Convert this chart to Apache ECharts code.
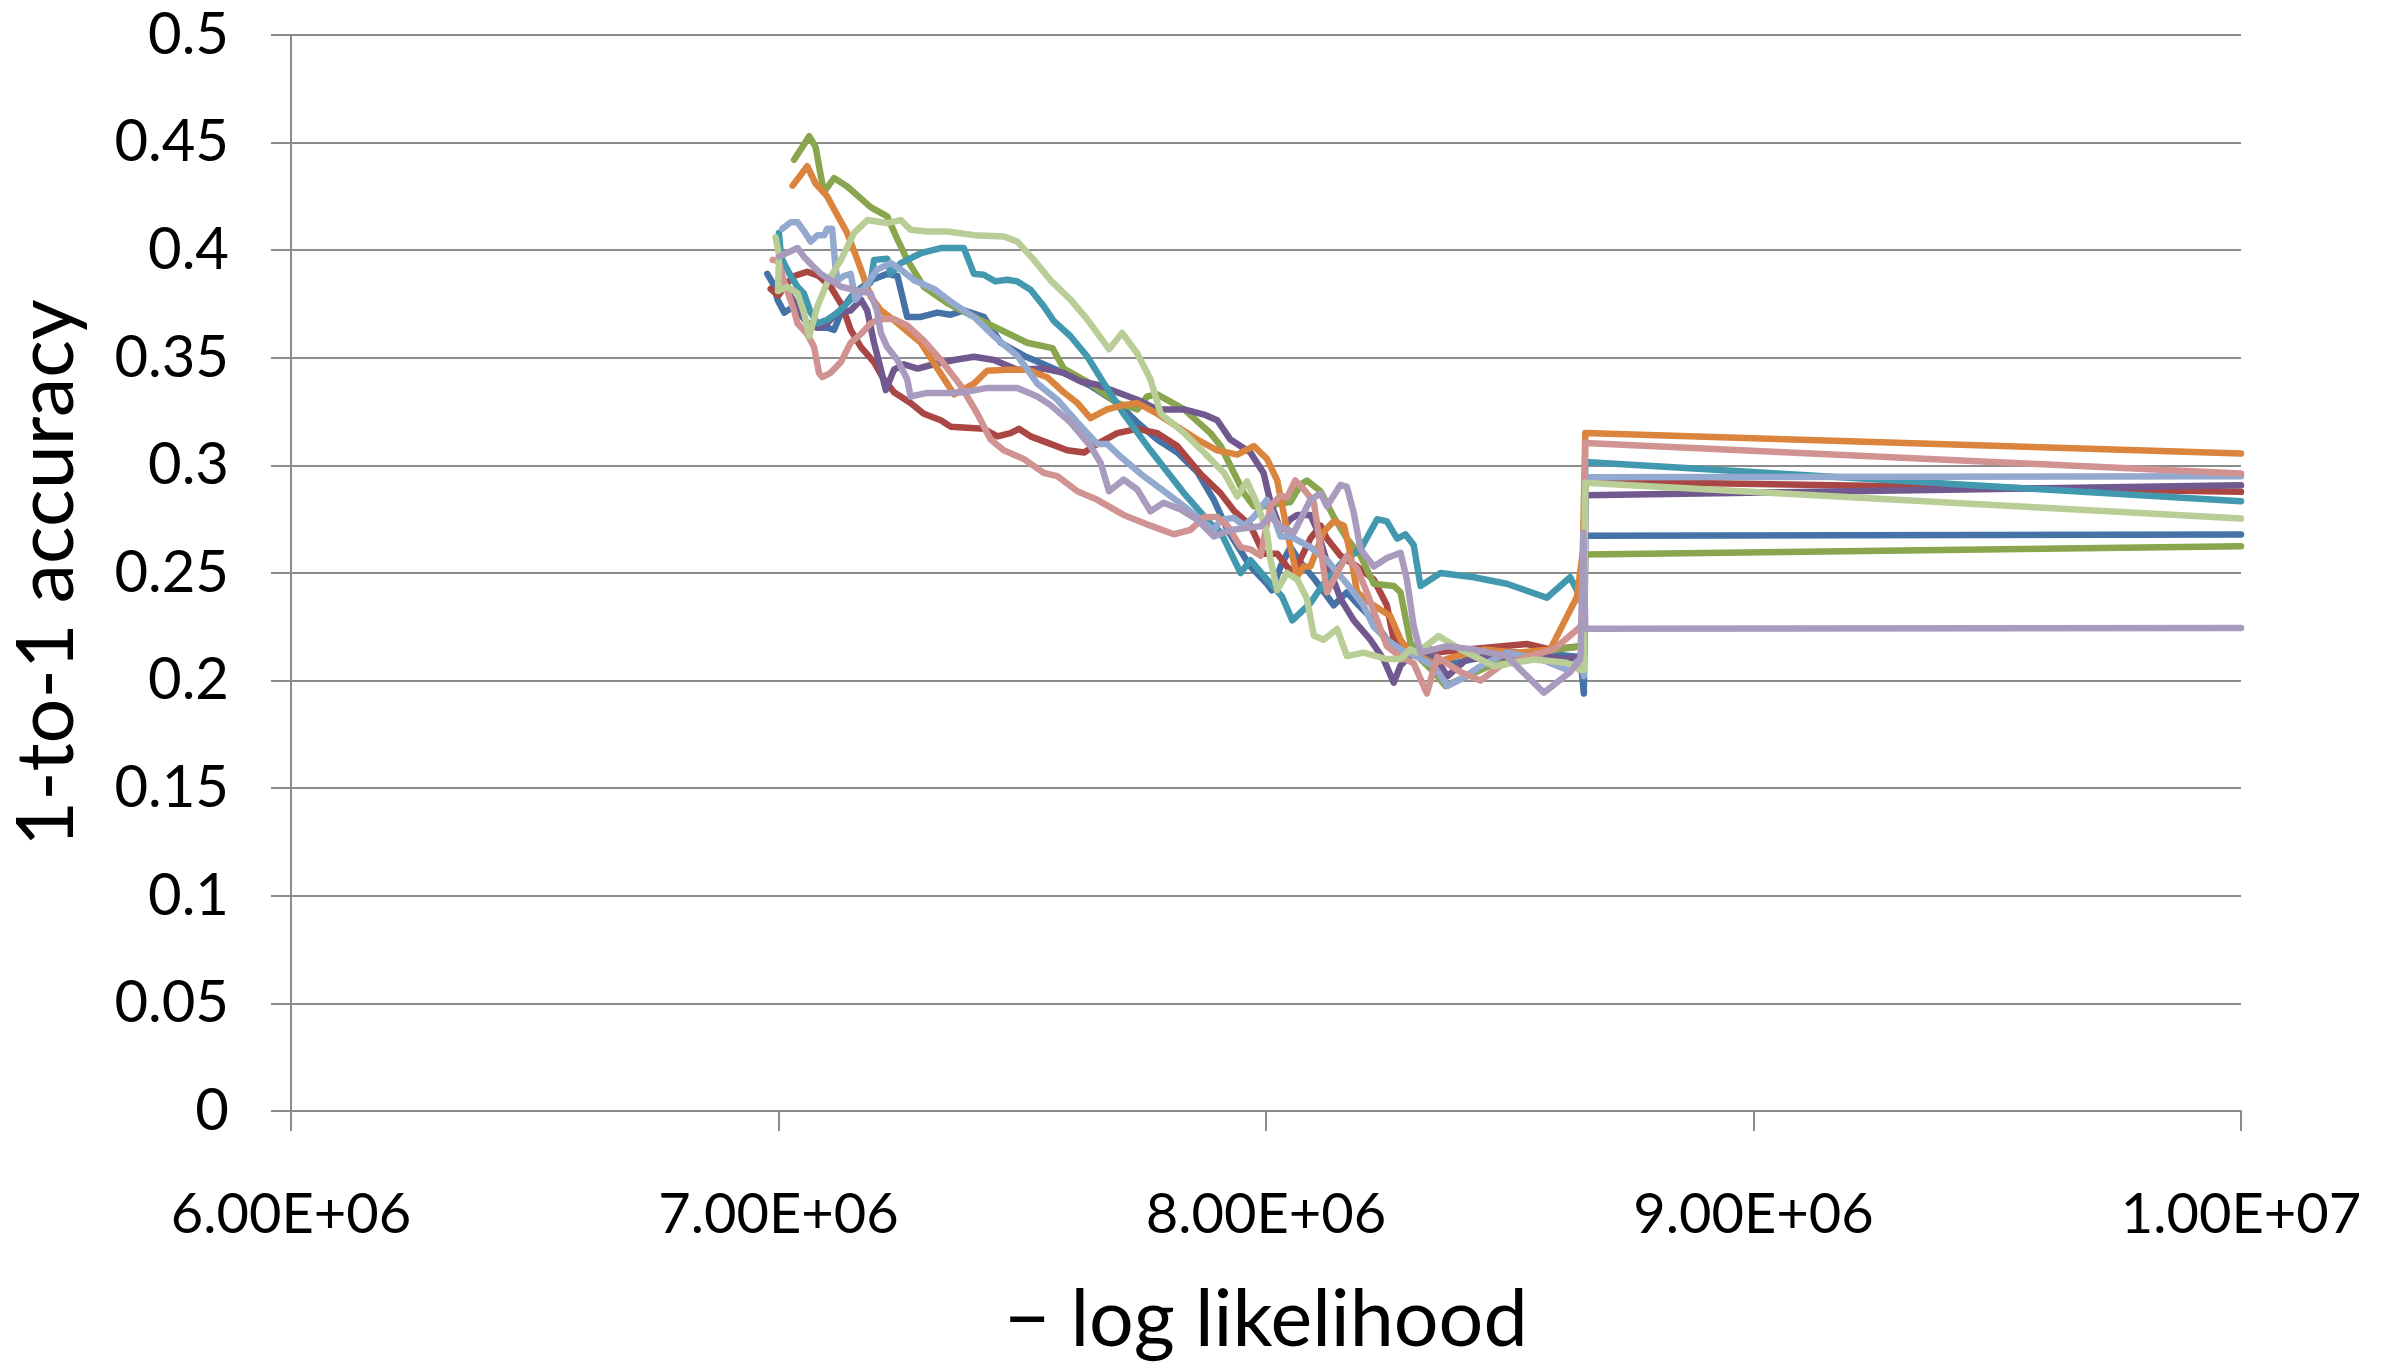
<!DOCTYPE html>
<html>
<head>
<meta charset="utf-8">
<script src="https://cdn.jsdelivr.net/npm/echarts/dist/echarts.min.js"></script>
<style>
  html, body { margin: 0; padding: 0; background: #ffffff; }
  #chart { width: 2395px; height: 1365px; }
</style>
</head>
<body>
<div id="chart"></div>
<script>
  // x in millions (- log likelihood), y = 1-to-1 accuracy
  const blueRun = [[6.977,0.389],[6.990,0.384],[6.998,0.377],[7.012,0.371],[7.032,0.374],[7.059,0.366],[7.080,0.364],[7.100,0.364],[7.114,0.363],[7.134,0.374],[7.155,0.380],[7.189,0.386],[7.223,0.389],[7.244,0.388],[7.264,0.369],[7.292,0.369],[7.326,0.371],[7.353,0.370],[7.380,0.372],[7.421,0.369],[7.456,0.357],[7.503,0.351],[7.544,0.347],[7.585,0.343],[7.640,0.337],[7.695,0.329],[7.736,0.320],[7.777,0.312],[7.818,0.306],[7.859,0.297],[7.893,0.284],[7.921,0.270],[7.968,0.253],[8.002,0.245],[8.012,0.242],[8.030,0.253],[8.050,0.262],[8.071,0.255],[8.100,0.247],[8.139,0.235],[8.166,0.241],[8.190,0.235],[8.221,0.228],[8.248,0.219],[8.289,0.216],[8.344,0.210],[8.385,0.208],[8.426,0.210],[8.481,0.213],[8.549,0.213],[8.645,0.211],[8.652,0.194],[8.655,0.2673],[10,0.2679]];
  const redRun = [[6.984,0.382],[7.000,0.379],[7.015,0.384],[7.032,0.388],[7.059,0.390],[7.083,0.388],[7.107,0.383],[7.131,0.374],[7.148,0.363],[7.169,0.355],[7.196,0.348],[7.216,0.340],[7.237,0.334],[7.271,0.329],[7.298,0.324],[7.333,0.321],[7.353,0.318],[7.421,0.317],[7.449,0.3135],[7.476,0.315],[7.493,0.317],[7.517,0.3135],[7.558,0.310],[7.592,0.307],[7.627,0.306],[7.654,0.310],[7.695,0.315],[7.736,0.317],[7.777,0.315],[7.818,0.309],[7.866,0.296],[7.907,0.287],[7.934,0.279],[7.968,0.272],[7.995,0.259],[8.023,0.259],[8.043,0.253],[8.057,0.250],[8.091,0.266],[8.112,0.272],[8.125,0.266],[8.153,0.258],[8.187,0.253],[8.221,0.247],[8.248,0.235],[8.262,0.219],[8.289,0.2145],[8.344,0.213],[8.412,0.2145],[8.535,0.217],[8.583,0.2145],[8.645,0.216],[8.652,0.213],[8.655,0.2926],[10,0.2877]];
  const greenRun = [[7.032,0.442],[7.063,0.453],[7.076,0.448],[7.093,0.427],[7.114,0.4335],[7.141,0.4296],[7.189,0.420],[7.223,0.4157],[7.244,0.405],[7.264,0.3955],[7.298,0.383],[7.346,0.3754],[7.401,0.369],[7.456,0.363],[7.510,0.357],[7.562,0.3545],[7.585,0.345],[7.640,0.338],[7.695,0.329],[7.736,0.326],[7.756,0.332],[7.777,0.333],[7.832,0.326],[7.886,0.315],[7.907,0.309],[7.955,0.287],[7.975,0.281],[8.002,0.281],[8.023,0.282],[8.050,0.283],[8.071,0.291],[8.084,0.293],[8.112,0.288],[8.139,0.276],[8.166,0.266],[8.194,0.258],[8.221,0.245],[8.262,0.244],[8.276,0.241],[8.296,0.218],[8.317,0.210],[8.344,0.204],[8.368,0.1975],[8.412,0.202],[8.460,0.207],[8.515,0.211],[8.583,0.214],[8.645,0.216],[8.652,0.215],[8.655,0.2586],[10,0.2624]];
  const purpleRun = [[7.020,0.382],[7.025,0.3785],[7.059,0.366],[7.080,0.364],[7.100,0.366],[7.121,0.371],[7.148,0.372],[7.169,0.377],[7.182,0.372],[7.196,0.357],[7.210,0.3445],[7.220,0.335],[7.237,0.3445],[7.257,0.347],[7.285,0.345],[7.319,0.347],[7.360,0.349],[7.401,0.3505],[7.442,0.349],[7.490,0.3445],[7.544,0.345],[7.585,0.343],[7.620,0.339],[7.654,0.3375],[7.695,0.334],[7.736,0.3305],[7.777,0.326],[7.832,0.326],[7.873,0.3236],[7.900,0.321],[7.927,0.312],[7.968,0.306],[7.995,0.2965],[8.009,0.283],[8.030,0.270],[8.050,0.275],[8.064,0.277],[8.091,0.277],[8.105,0.270],[8.125,0.255],[8.153,0.238],[8.180,0.228],[8.214,0.219],[8.241,0.210],[8.262,0.199],[8.276,0.207],[8.303,0.213],[8.337,0.2145],[8.372,0.202],[8.412,0.210],[8.481,0.211],[8.549,0.212],[8.610,0.210],[8.645,0.211],[8.652,0.210],[8.655,0.2861],[10,0.2908]];
  const tealRun = [[7.001,0.408],[7.004,0.400],[7.008,0.3955],[7.025,0.388],[7.039,0.383],[7.052,0.380],[7.066,0.371],[7.080,0.366],[7.100,0.3677],[7.121,0.371],[7.148,0.377],[7.169,0.3816],[7.189,0.385],[7.196,0.3955],[7.223,0.396],[7.230,0.389],[7.251,0.394],[7.292,0.3986],[7.333,0.401],[7.380,0.401],[7.401,0.389],[7.421,0.3886],[7.445,0.3855],[7.469,0.3863],[7.490,0.3855],[7.517,0.3816],[7.544,0.374],[7.565,0.367],[7.599,0.360],[7.633,0.3507],[7.668,0.338],[7.708,0.324],[7.763,0.307],[7.832,0.287],[7.886,0.273],[7.907,0.269],[7.948,0.250],[7.968,0.256],[8.002,0.247],[8.033,0.239],[8.054,0.228],[8.091,0.236],[8.118,0.245],[8.160,0.256],[8.194,0.261],[8.228,0.275],[8.248,0.274],[8.269,0.266],[8.286,0.268],[8.303,0.263],[8.317,0.244],[8.358,0.250],[8.426,0.248],[8.494,0.245],[8.576,0.2385],[8.624,0.248],[8.645,0.239],[8.650,0.234],[8.655,0.3016],[10,0.2833]];
  const orangeRun = [[7.029,0.430],[7.059,0.439],[7.076,0.431],[7.100,0.425],[7.114,0.419],[7.141,0.408],[7.162,0.3955],[7.189,0.3785],[7.210,0.372],[7.234,0.368],[7.292,0.357],[7.346,0.338],[7.360,0.333],[7.401,0.338],[7.428,0.344],[7.469,0.3445],[7.510,0.3445],[7.551,0.341],[7.585,0.334],[7.613,0.329],[7.640,0.322],[7.674,0.326],[7.708,0.328],[7.736,0.329],[7.777,0.324],[7.818,0.318],[7.859,0.312],[7.900,0.307],[7.941,0.305],[7.975,0.309],[8.002,0.303],[8.023,0.293],[8.036,0.278],[8.050,0.262],[8.064,0.2485],[8.077,0.253],[8.091,0.253],[8.118,0.269],[8.139,0.274],[8.160,0.272],[8.173,0.259],[8.187,0.241],[8.214,0.236],[8.255,0.230],[8.276,0.219],[8.296,0.213],[8.317,0.211],[8.344,0.208],[8.385,0.211],[8.447,0.2145],[8.515,0.213],[8.583,0.2145],[8.638,0.239],[8.650,0.260],[8.655,0.3151],[10,0.3055]];
  const lightBlueRun = [[7.008,0.410],[7.025,0.413],[7.039,0.413],[7.052,0.409],[7.066,0.404],[7.080,0.407],[7.094,0.407],[7.100,0.410],[7.110,0.410],[7.117,0.392],[7.121,0.386],[7.134,0.388],[7.148,0.389],[7.158,0.377],[7.175,0.382],[7.202,0.391],[7.230,0.394],[7.251,0.391],[7.278,0.386],[7.319,0.382],[7.360,0.375],[7.401,0.369],[7.442,0.360],[7.490,0.351],[7.531,0.338],[7.572,0.3305],[7.613,0.320],[7.654,0.310],[7.674,0.310],[7.702,0.304],[7.749,0.295],[7.797,0.287],[7.832,0.281],[7.873,0.2733],[7.893,0.270],[7.907,0.2748],[7.934,0.2756],[7.955,0.272],[7.975,0.276],[8.002,0.284],[8.016,0.276],[8.030,0.267],[8.050,0.267],[8.091,0.262],[8.125,0.256],[8.166,0.245],[8.200,0.235],[8.221,0.225],[8.248,0.219],[8.276,0.2145],[8.310,0.211],[8.344,0.207],[8.372,0.1975],[8.399,0.2006],[8.440,0.2067],[8.494,0.213],[8.563,0.210],[8.617,0.205],[8.645,0.210],[8.652,0.202],[8.655,0.2945],[10,0.295]];
  const pinkRun = [[6.988,0.3955],[7.000,0.395],[7.012,0.385],[7.032,0.372],[7.039,0.366],[7.059,0.361],[7.073,0.355],[7.083,0.343],[7.090,0.341],[7.107,0.343],[7.128,0.348],[7.148,0.357],[7.169,0.361],[7.189,0.366],[7.210,0.368],[7.237,0.368],[7.264,0.365],[7.298,0.358],[7.333,0.349],[7.374,0.337],[7.408,0.324],[7.435,0.312],[7.462,0.307],[7.503,0.303],[7.544,0.2965],[7.572,0.295],[7.613,0.288],[7.654,0.284],[7.708,0.277],[7.763,0.272],[7.811,0.268],[7.845,0.270],[7.873,0.276],[7.900,0.276],[7.921,0.272],[7.948,0.262],[7.968,0.261],[7.989,0.258],[8.009,0.281],[8.030,0.286],[8.043,0.285],[8.060,0.293],[8.077,0.289],[8.098,0.283],[8.112,0.262],[8.125,0.241],[8.153,0.253],[8.166,0.258],[8.187,0.252],[8.207,0.241],[8.228,0.228],[8.248,0.216],[8.276,0.211],[8.303,0.208],[8.330,0.194],[8.351,0.211],[8.399,0.204],[8.440,0.200],[8.481,0.207],[8.535,0.211],[8.590,0.2145],[8.645,0.225],[8.650,0.230],[8.655,0.3104],[10,0.2962]];
  const lightGreenRun = [[6.994,0.406],[7.001,0.398],[6.999,0.381],[7.018,0.383],[7.039,0.380],[7.052,0.371],[7.063,0.360],[7.080,0.374],[7.100,0.385],[7.128,0.3955],[7.155,0.408],[7.182,0.414],[7.223,0.4126],[7.251,0.414],[7.271,0.4095],[7.305,0.4087],[7.346,0.4087],[7.401,0.407],[7.462,0.4064],[7.490,0.404],[7.524,0.3955],[7.558,0.386],[7.599,0.377],[7.633,0.368],[7.678,0.354],[7.705,0.3615],[7.736,0.352],[7.763,0.340],[7.784,0.324],[7.832,0.315],[7.873,0.306],[7.914,0.2965],[7.941,0.2856],[7.961,0.2926],[7.982,0.282],[8.002,0.2687],[8.009,0.2563],[8.023,0.242],[8.043,0.250],[8.064,0.247],[8.084,0.238],[8.098,0.221],[8.118,0.219],[8.146,0.224],[8.166,0.2114],[8.200,0.213],[8.248,0.210],[8.276,0.210],[8.296,0.2145],[8.310,0.213],[8.354,0.2207],[8.399,0.2145],[8.467,0.2067],[8.549,0.2098],[8.617,0.2083],[8.644,0.205],[8.652,0.205],[8.655,0.2919],[10,0.2753]];
  const lightPurpleRun = [[7.001,0.397],[7.020,0.399],[7.039,0.401],[7.052,0.397],[7.073,0.392],[7.087,0.389],[7.107,0.386],[7.128,0.383],[7.155,0.3816],[7.189,0.380],[7.202,0.372],[7.210,0.3615],[7.223,0.355],[7.244,0.349],[7.264,0.340],[7.271,0.332],[7.305,0.3337],[7.346,0.3337],[7.380,0.334],[7.428,0.336],[7.490,0.336],[7.531,0.332],[7.558,0.328],[7.599,0.320],[7.640,0.309],[7.661,0.301],[7.678,0.288],[7.708,0.2934],[7.736,0.2888],[7.763,0.2787],[7.790,0.2826],[7.825,0.2795],[7.859,0.2748],[7.893,0.267],[7.927,0.270],[7.989,0.2717],[8.009,0.2764],[8.030,0.2717],[8.057,0.2687],[8.091,0.284],[8.112,0.287],[8.125,0.281],[8.153,0.291],[8.166,0.290],[8.180,0.278],[8.194,0.261],[8.221,0.253],[8.248,0.257],[8.276,0.2594],[8.289,0.247],[8.303,0.2253],[8.317,0.213],[8.344,0.2145],[8.372,0.216],[8.426,0.2145],[8.494,0.2114],[8.570,0.1944],[8.624,0.204],[8.645,0.210],[8.651,0.2687],[8.655,0.2241],[10,0.2244]];

  const runs = [blueRun, redRun, greenRun, purpleRun, tealRun, orangeRun, lightBlueRun, pinkRun, lightGreenRun, lightPurpleRun];
  const runColors = ['#4572A7', '#AA4643', '#89A54E', '#71588F', '#4198AF', '#DB843D', '#93A9CF', '#D19392', '#B9CD96', '#A99BBD'];

  const GRID_GRAY = '#8c8c8c';
  const FONT = 'Lato, "Open Sans", sans-serif';

  function sciLabel(v) {
    const parts = v.toExponential(2).split('e');
    const exp = parts[1];
    return parts[0] + 'E' + exp[0] + exp.slice(1).padStart(2, '0');
  }

  const chart = echarts.init(document.getElementById('chart'), null, { renderer: 'canvas' });

  chart.setOption({
    animation: false,
    backgroundColor: '#ffffff',
    grid: { left: 290, right: 154, top: 35, bottom: 253, containLabel: false },
    xAxis: {
      type: 'value',
      min: 6e6,
      max: 1e7,
      interval: 1e6,
      name: '\u2212 log likelihood',
      nameLocation: 'middle',
      nameGap: 170,
      nameTextStyle: { fontFamily: FONT, fontSize: 79, color: '#000' },
      axisLine: { show: true, lineStyle: { color: GRID_GRAY, width: 2 } },
      axisTick: { show: true, length: 20, inside: false, lineStyle: { color: GRID_GRAY, width: 2 } },
      splitLine: { show: false },
      axisLabel: {
        fontFamily: FONT, fontSize: 56, color: '#000', margin: 76,
        formatter: sciLabel
      }
    },
    yAxis: {
      type: 'value',
      min: 0,
      max: 0.5,
      interval: 0.05,
      name: '1-to-1 accuracy',
      nameLocation: 'middle',
      nameGap: 204,
      nameRotate: 90,
      nameTextStyle: { fontFamily: FONT, fontSize: 79, color: '#000' },
      axisLine: { show: true, lineStyle: { color: GRID_GRAY, width: 2 } },
      axisTick: { show: true, length: 20, inside: false, lineStyle: { color: GRID_GRAY, width: 2 } },
      splitLine: { show: true, lineStyle: { color: GRID_GRAY, width: 2 } },
      axisLabel: {
        fontFamily: FONT, fontSize: 58, color: '#000', margin: 62,
        formatter: v => String(+v.toFixed(2))
      }
    },
    series: runs.map((run, i) => ({
      type: 'line',
      data: run.map(p => [p[0] * 1e6, p[1]]),
      showSymbol: false,
      symbol: 'none',
      smooth: false,
      lineStyle: { color: runColors[i], width: 6.5, join: 'round', cap: 'round' },
      itemStyle: { color: runColors[i] },
      z: 2 + i
    }))
  });
</script>
</body>
</html>
